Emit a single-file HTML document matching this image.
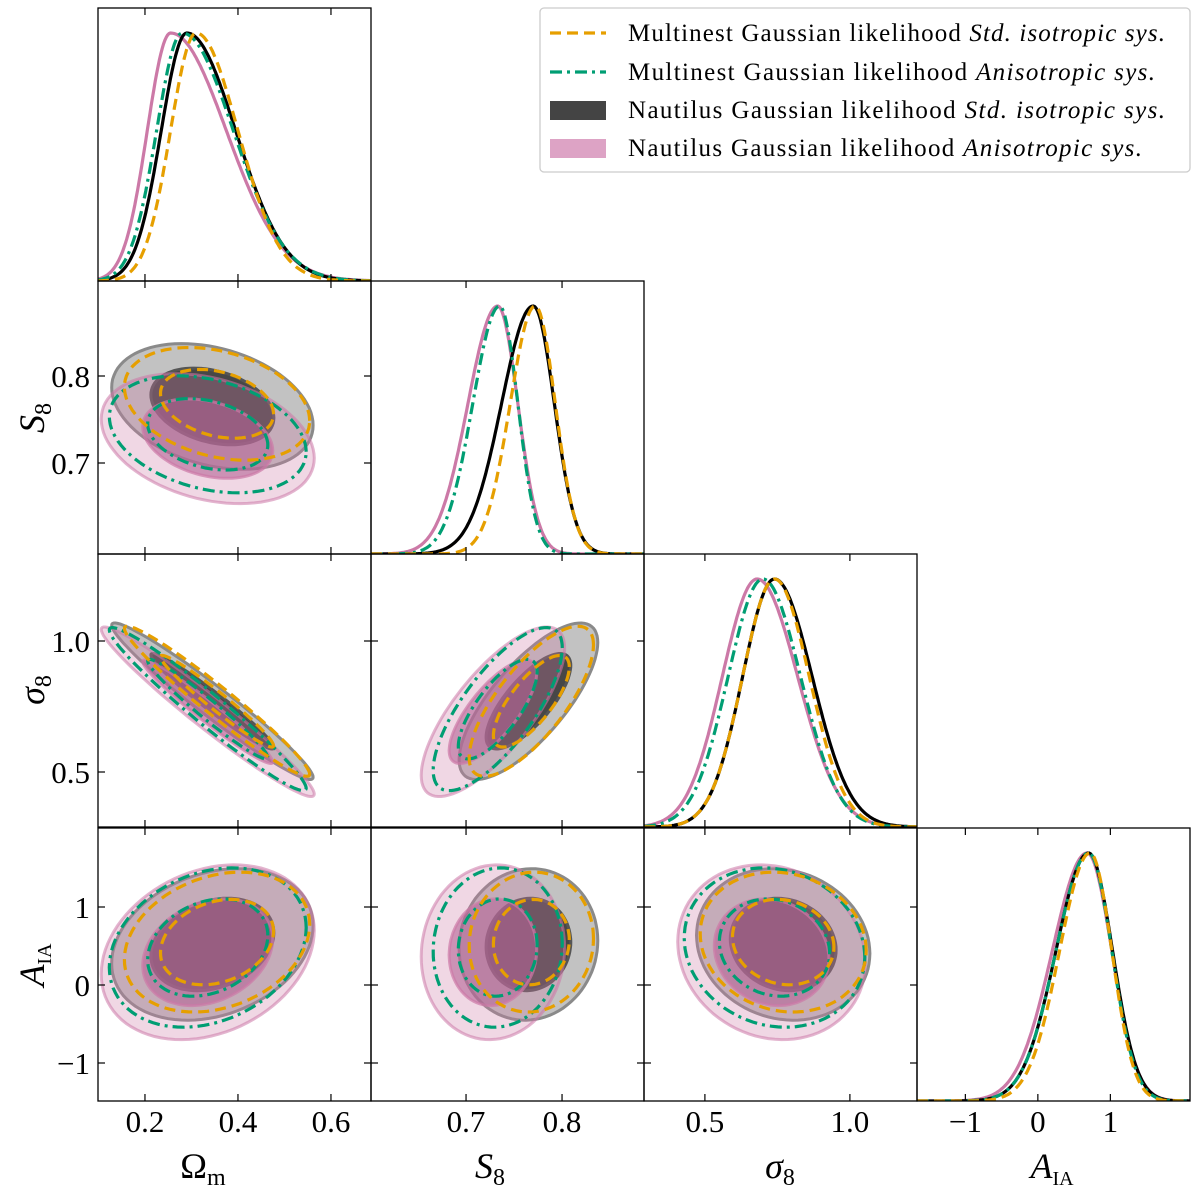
<!DOCTYPE html>
<html><head><meta charset="utf-8">
<style>
html,body{margin:0;padding:0;background:#fff;}
svg{display:block;}
text{font-family:"Liberation Serif",serif;fill:#000;}
</style></head>
<body>
<svg id="chart" width="1200" height="1200" viewBox="0 0 1200 1200"></svg>
<script>
// ---- data (summary statistics per series) ----
const seriesNames = ["Multinest Std. isotropic", "Multinest Anisotropic", "Nautilus Std. isotropic", "Nautilus Anisotropic"];
const paramNames = ["Om", "S8", "s8", "AIA"];
// 1D marginal shapes (mode, left/right widths)
const omMode = [0.31, 0.28, 0.29, 0.255];
const omSdL = [0.055, 0.055, 0.055, 0.05];
const omSdR = [0.09, 0.11, 0.105, 0.12];
const s8Mode = [0.772, 0.735, 0.770, 0.733];
const s8SdL = [0.026, 0.028, 0.033, 0.031];
const s8SdR = [0.021, 0.019, 0.022, 0.021];
const sig8Mode = [0.74, 0.70, 0.74, 0.68];
const sig8SdL = [0.11, 0.12, 0.11, 0.12];
const sig8SdR = [0.12, 0.13, 0.13, 0.14];
const aiaMode = [0.72, 0.70, 0.70, 0.68];
const aiaSdL = [0.42, 0.45, 0.45, 0.48];
const aiaSdR = [0.30, 0.32, 0.33, 0.34];
// 2D contour centres and widths
const omMean2D = [0.355, 0.335, 0.345, 0.335];
const omSd2D = [0.08, 0.085, 0.087, 0.092];
const s8Mean2D = [0.768, 0.733, 0.765, 0.728];
const s8Sd2D = [0.026, 0.027, 0.029, 0.03];
const sig8Mean2D = [0.77, 0.74, 0.77, 0.73];
const sig8Sd2D = [0.115, 0.125, 0.12, 0.13];
const aiaMean2D = [0.55, 0.48, 0.52, 0.42];
const aiaSd2D = [0.36, 0.41, 0.39, 0.45];
// correlations per pair (row param, col param)
const corrS8Om = [-0.3, -0.3, -0.3, -0.3];
const corrSig8Om = [-0.97, -0.97, -0.97, -0.97];
const corrSig8S8 = [0.75, 0.75, 0.75, 0.75];
const corrAiaOm = [0.25, 0.25, 0.25, 0.25];
const corrAiaS8 = [0.05, 0.05, 0.05, 0.05];
const corrAiaSig8 = [-0.12, -0.12, -0.12, -0.12];
const omTicks = [0.2, 0.4, 0.6];
const s8Ticks = [0.7, 0.8];
const sig8Ticks = [0.5, 1.0];
const aiaTicks = [-1, 0, 1];
const tickLabelsOm = ["0.2", "0.4", "0.6"];
const tickLabelsS8 = ["0.7", "0.8"];
const tickLabelsSig8 = ["0.5", "1.0"];
const tickLabelsAia = ["\u22121", "0", "1"];

// ---- layout ----
const colX = [98, 371, 644, 917], rowY = [8, 281, 554, 828], P = 273;
const modes = [omMode, s8Mode, sig8Mode, aiaMode];
const sdLs = [omSdL, s8SdL, sig8SdL, aiaSdL];
const sdRs = [omSdR, s8SdR, sig8SdR, aiaSdR];
const means2D = [omMean2D, s8Mean2D, sig8Mean2D, aiaMean2D];
const sds2D = [omSd2D, s8Sd2D, sig8Sd2D, aiaSd2D];
const ticks = [omTicks, s8Ticks, sig8Ticks, aiaTicks];
const tickLabels = [tickLabelsOm, tickLabelsS8, tickLabelsSig8, tickLabelsAia];
const corr = {"1_0": corrS8Om, "2_0": corrSig8Om, "2_1": corrSig8S8, "3_0": corrAiaOm, "3_1": corrAiaS8, "3_2": corrAiaSig8};
function xScale(p, v) {
  if (p === 0) return 98 + (v - 0.099) * 465;
  if (p === 1) return 371 + (v - 0.601) * 960;
  if (p === 2) return 644 + (v - 0.29) * 290;
  return 917 + (v + 1.667) * 72.5;
}
function yScale(p, v) {
  if (p === 1) return 376 - (v - 0.8) * 870;
  if (p === 2) return 641 - (v - 1.0) * 262;
  return 985 - v * 78;
}
const NS = "http://www.w3.org/2000/svg";
const svg = document.getElementById("chart");
function mk(tag, attrs, parent) {
  const e = document.createElementNS(NS, tag);
  for (const k in attrs) e.setAttribute(k, attrs[k]);
  (parent || svg).appendChild(e);
  return e;
}
const defs = mk("defs", {});
for (let r = 0; r < 4; r++) for (let c = 0; c <= r; c++) {
  const cp = mk("clipPath", {id: "clip" + r + c}, defs);
  mk("rect", {x: colX[c], y: rowY[r], width: P, height: P}, cp);
}
const lineStyles = [
  {stroke: "#E69F00", dash: "11,6"},
  {stroke: "#009E73", dash: "12,5,3,5"},
  {stroke: "#000000", dash: ""},
  {stroke: "#CC79A7", dash: ""}
];
// ---- 1D marginals ----
for (let p = 0; p < 4; p++) {
  const g = mk("g", {"clip-path": "url(#clip" + p + p + ")"});
  
  
  for (const s of [3, 2, 1, 0]) {
    let d = "";
    const a = xScale(p, 0), b = xScale(p, 1);
    for (let i = 0; i <= 200; i++) {
      const px = colX[p] + i * P / 200;
      const v = (px - a) / (b - a);
      const sd = v < modes[p][s] ? sdLs[p][s] : sdRs[p][s];
      const z = (v - modes[p][s]) / sd;
      const h = Math.exp(-0.5 * z * z);
      const py = rowY[p] + P - h * (P - 25);
      d += (i ? "L" : "M") + px.toFixed(1) + "," + py.toFixed(1);
    }
    const path = mk("path", {d: d, fill: "none", stroke: lineStyles[s].stroke, "stroke-width": 3.2, "stroke-dasharray": lineStyles[s].dash}, g);
    
    
  }
}
// ---- 2D contours ----
function ellipsePath(r, c, s, k) {
  const rho = corr[r + "_" + c][s];
  const mx = means2D[c][s], my = means2D[r][s];
  const sx = sds2D[c][s], sy = sds2D[r][s];
  let d = "";
  for (let i = 0; i <= 90; i++) {
    const t = i / 90 * 2 * Math.PI;
    const vx = mx + k * sx * Math.cos(t);
    const vy = my + k * sy * (rho * Math.cos(t) + Math.sqrt(1 - rho * rho) * Math.sin(t));
    d += (i ? "L" : "M") + xScale(c, vx).toFixed(1) + "," + yScale(r, vy).toFixed(1);
  }
  return d + "Z";
}
const K1 = 1.52, K2 = 2.49;
for (let r = 1; r < 4; r++) for (let c = 0; c < r; c++) {
  const g = mk("g", {"clip-path": "url(#clip" + r + c + ")"});
  
  
  let e = mk("path", {d: ellipsePath(r, c, 2, K2), fill: "rgba(0,0,0,0.24)", stroke: "#8a8a8a", "stroke-width": 3}, g);
   
  e = mk("path", {d: ellipsePath(r, c, 2, K1), fill: "rgba(40,40,40,0.8)", stroke: "#555", "stroke-width": 3}, g);
   
  e = mk("path", {d: ellipsePath(r, c, 3, K2), fill: "rgba(204,121,167,0.3)", stroke: "rgba(204,121,167,0.55)", "stroke-width": 3}, g);
   
  e = mk("path", {d: ellipsePath(r, c, 3, K1), fill: "rgba(180,100,150,0.6)", stroke: "rgba(204,121,167,0.7)", "stroke-width": 3}, g);
   
  for (const s of [1, 0]) for (const k of [K2, K1]) {
    e = mk("path", {d: ellipsePath(r, c, s, k), fill: "none", stroke: lineStyles[s].stroke, "stroke-width": 3.2, "stroke-dasharray": lineStyles[s].dash}, g);
    
    
  }
}
// ---- frames, ticks, labels ----
for (let r = 0; r < 4; r++) for (let c = 0; c <= r; c++) {
  const x0 = colX[c], y0 = rowY[r];
  const f = mk("rect", {x: x0, y: y0, width: P, height: P, fill: "none", stroke: "#000", "stroke-width": 1.3});
  
  
  ticks[c].forEach((v, i) => {
    const x = xScale(c, v);
    mk("line", {x1: x, x2: x, y1: y0 + P, y2: y0 + P - 7, stroke: "#000", "stroke-width": 1.2});
    mk("line", {x1: x, x2: x, y1: y0, y2: y0 + 7, stroke: "#000", "stroke-width": 1.2});
    if (r === 3) {
      const t = mk("text", {x: x, y: 1132, "font-size": 31, "text-anchor": "middle"});
      t.textContent = tickLabels[c][i];
      
      
    }
  });
  if (r !== c) {
    ticks[r].forEach((v, i) => {
      const y = yScale(r, v);
      mk("line", {x1: x0, x2: x0 + 7, y1: y, y2: y, stroke: "#000", "stroke-width": 1.2});
      mk("line", {x1: x0 + P, x2: x0 + P - 7, y1: y, y2: y, stroke: "#000", "stroke-width": 1.2});
      if (c === 0) {
        const t = mk("text", {x: 90, y: y + 11, "font-size": 31, "text-anchor": "end"});
        t.textContent = tickLabels[r][i];
        
        
      }
    });
  }
}
</script>
<svg width="1200" height="1200" style="position:absolute;left:0;top:0;pointer-events:none">
  <g font-family="Liberation Serif, serif" font-size="36">
    <text x="203" y="1178" text-anchor="middle">Ω<tspan font-size="24" dy="7">m</tspan></text>
    <text x="490" y="1178" text-anchor="middle" font-style="italic">S<tspan font-size="24" dy="7" font-style="normal">8</tspan></text>
    <text x="780" y="1178" text-anchor="middle" font-style="italic">σ<tspan font-size="24" dy="7" font-style="normal">8</tspan></text>
    <text x="1052" y="1178" text-anchor="middle" font-style="italic">A<tspan font-size="20" dy="7" font-style="normal">IA</tspan></text>
    <text transform="translate(44,418) rotate(-90)" text-anchor="middle" font-style="italic">S<tspan font-size="24" dy="7" font-style="normal">8</tspan></text>
    <text transform="translate(44,690) rotate(-90)" text-anchor="middle" font-style="italic">σ<tspan font-size="24" dy="7" font-style="normal">8</tspan></text>
    <text transform="translate(44,965) rotate(-90)" text-anchor="middle" font-style="italic">A<tspan font-size="20" dy="7" font-style="normal">IA</tspan></text>
  </g>
  <g>
    <rect x="540" y="8" width="650" height="164" rx="4" fill="#fff" stroke="#ccc" stroke-width="1.3"/>
    <line x1="550" y1="33" x2="606" y2="33" stroke="#E69F00" stroke-width="3.2" stroke-dasharray="11,6"/>
    <line x1="550" y1="72" x2="606" y2="72" stroke="#009E73" stroke-width="3.2" stroke-dasharray="12,5,3,5"/>
    <rect x="550" y="101" width="56" height="19" fill="#444"/>
    <rect x="550" y="139" width="56" height="19" fill="#dda3c5"/>
    <g font-family="Liberation Serif, serif" font-size="25">
      <text x="628" y="41" textLength="537" lengthAdjust="spacing">Multinest Gaussian likelihood <tspan font-style="italic">Std. isotropic sys.</tspan></text>
      <text x="628" y="80" textLength="527" lengthAdjust="spacing">Multinest Gaussian likelihood <tspan font-style="italic">Anisotropic sys.</tspan></text>
      <text x="628" y="118" textLength="537" lengthAdjust="spacing">Nautilus Gaussian likelihood <tspan font-style="italic">Std. isotropic sys.</tspan></text>
      <text x="628" y="156" textLength="514" lengthAdjust="spacing">Nautilus Gaussian likelihood <tspan font-style="italic">Anisotropic sys.</tspan></text>
    </g>
  </g>
</svg>
</body></html>
